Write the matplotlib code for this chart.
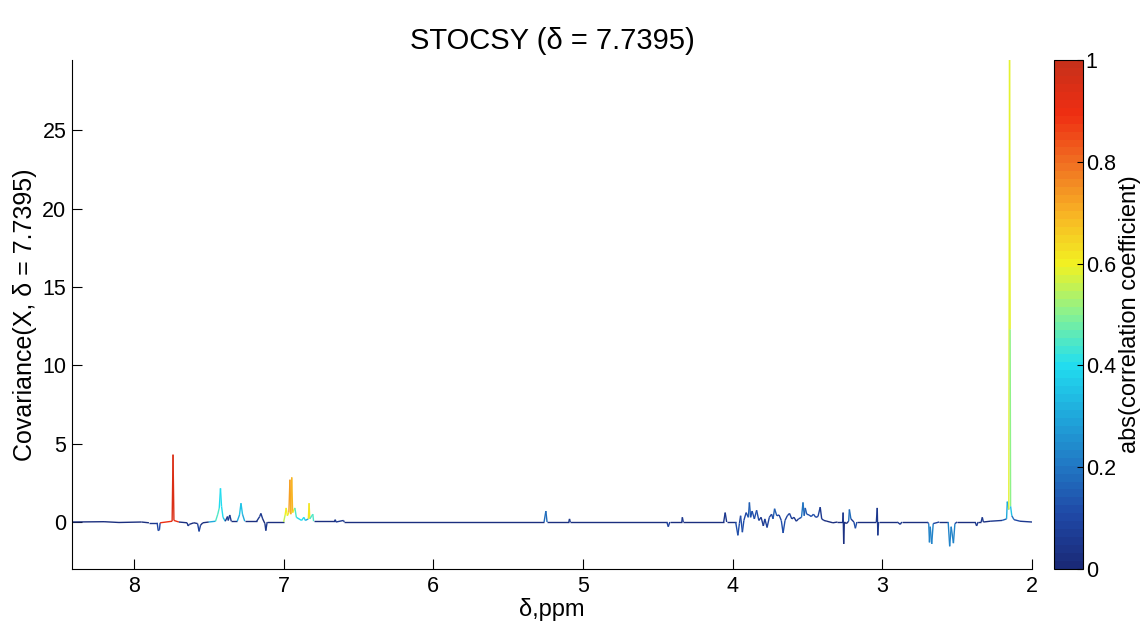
import numpy as np
import matplotlib
matplotlib.use('Agg')
import matplotlib.pyplot as plt
from matplotlib.collections import LineCollection
from matplotlib.colors import LinearSegmentedColormap, Normalize
from matplotlib.cm import ScalarMappable

plt.rcParams['font.family'] = ['Liberation Sans', 'DejaVu Sans']

# spectrum: chemical shift, covariance, abs(correlation)
ppm = [8.414, 8.20, 8.10, 7.95, 7.90, 7.845, 7.838, 7.830, 7.825,
       7.745, 7.739, 7.733, 7.70, 7.645, 7.638, 7.63, 7.60, 7.575, 7.565, 7.555, 7.54,
       7.50, 7.455, 7.44, 7.43, 7.422, 7.415, 7.405, 7.39, 7.375, 7.37, 7.36, 7.35,
       7.31, 7.295, 7.285, 7.275, 7.26, 7.18, 7.16, 7.152, 7.14, 7.125, 7.119, 7.11,
       7.00, 6.99, 6.983, 6.975, 6.965, 6.958, 6.952, 6.946, 6.940, 6.925, 6.915,
       6.88, 6.865, 6.855, 6.835, 6.83, 6.825, 6.805, 6.80, 6.66, 6.655, 6.65, 6.60, 6.595,
       5.26, 5.248, 5.24, 5.095, 5.09, 5.085, 4.44, 4.43, 4.42, 4.34, 4.336, 4.33,
       4.06, 4.05, 4.04, 3.98, 3.965, 3.955, 3.947, 3.935, 3.925, 3.91, 3.895, 3.888,
       3.88, 3.87, 3.855, 3.84, 3.825, 3.81, 3.795, 3.785, 3.77, 3.755, 3.74, 3.73,
       3.72, 3.705, 3.69, 3.675, 3.663, 3.65, 3.635, 3.62, 3.605, 3.59, 3.575, 3.56,
       3.54, 3.53, 3.522, 3.515, 3.505, 3.49, 3.475, 3.46, 3.445, 3.43, 3.415, 3.405,
       3.39, 3.37, 3.33, 3.30, 3.265, 3.262, 3.258, 3.254, 3.24, 3.225, 3.22, 3.21,
       3.19, 3.18, 3.17, 3.04, 3.034, 3.030, 3.025, 2.90, 2.88, 2.87, 2.70, 2.69,
       2.685, 2.68, 2.67, 2.66, 2.62, 2.56, 2.55, 2.54, 2.525, 2.515, 2.50, 2.38,
       2.37, 2.36, 2.34, 2.332, 2.325, 2.28, 2.20, 2.17, 2.165, 2.155, 2.150, 2.146,
       2.143, 2.135, 2.12, 2.08, 2.0]
cov = [0.0, 0.02, -0.03, 0.0, -0.05, -0.05, -0.55, -0.5, -0.05,
       0.05, 4.3, 0.1, 0.0, -0.05, -0.25, -0.15, -0.05, -0.1, -0.6, -0.2, -0.05,
       0.0, 0.05, 0.5, 0.9, 2.15, 1.0, 0.3, 0.05, 0.35, 0.1, 0.45, 0.05,
       0.05, 0.45, 1.2, 0.5, 0.05, 0.05, 0.35, 0.55, 0.2, -0.1, -0.55, 0.0,
       0.0, 0.45, 0.9, 0.4, 0.6, 2.7, 0.5, 2.85, 0.6, 0.9, 0.3,
       0.1, 0.3, 0.1, 0.2, 1.2, 0.2, 0.5, 0.05, 0.05, 0.15, 0.0, 0.1, 0.0,
       0.0, 0.7, 0.0, 0.0, 0.2, 0.0, 0.0, -0.3, 0.0, 0.0, 0.3, 0.0,
       0.0, 0.6, 0.0, 0.0, -0.85, -0.1, 0.4, -0.65, 0.1, 0.6, 0.3, 1.25,
       0.3, 0.7, 0.2, 0.75, 0.1, 0.3, -0.25, 0.2, -0.35, 0.3, 0.5, 0.2,
       0.85, 0.4, 0.45, 0.1, -0.7, 0.1, 0.4, 0.55, 0.2, 0.3, 0.05, 0.2,
       0.3, 1.25, 0.4, 0.9, 0.5, 0.45, 0.35, 0.5, 0.3, 0.35, 0.95, 0.2,
       0.1, 0.05, -0.05, 0.0, 0.0, 0.6, -1.4, 0.0, -0.1, 0.05, 0.8, 0.2,
       0.0, -0.4, 0.0, 0.0, 0.9, -0.85, 0.0, 0.0, -0.15, 0.0, 0.0, -0.1,
       -1.3, -0.3, -1.4, -0.1, 0.0, 0.0, -1.55, -0.3, -1.35, -0.1, 0.0, 0.0,
       -0.25, 0.0, 0.0, 0.3, 0.0, 0.05, 0.1, 0.2, 1.3, 0.8, 29.5, 12.3,
       1.0, 0.4, 0.15, 0.05, 0.0]
corr = [0.03, 0.03, 0.03, 0.03, 0.03, 0.05, 0.1, 0.1, 0.03,
        0.9, 0.95, 0.9, 0.03, 0.03, 0.06, 0.03, 0.03, 0.03, 0.08, 0.03, 0.03,
        0.03, 0.3, 0.45, 0.4, 0.35, 0.4, 0.35, 0.03, 0.06, 0.03, 0.06, 0.03,
        0.03, 0.3, 0.35, 0.3, 0.03, 0.03, 0.05, 0.05, 0.03, 0.03, 0.05, 0.03,
        0.03, 0.55, 0.6, 0.55, 0.6, 0.72, 0.6, 0.7, 0.6, 0.45, 0.4,
        0.3, 0.4, 0.3, 0.3, 0.62, 0.3, 0.45, 0.03, 0.03, 0.05, 0.03, 0.05, 0.03,
        0.03, 0.18, 0.03, 0.03, 0.05, 0.03, 0.03, 0.08, 0.03, 0.03, 0.05, 0.03,
        0.03, 0.05, 0.03, 0.03, 0.12, 0.05, 0.08, 0.12, 0.05, 0.1, 0.08, 0.15,
        0.08, 0.12, 0.05, 0.12, 0.05, 0.06, 0.06, 0.06, 0.08, 0.05, 0.08, 0.05,
        0.15, 0.08, 0.08, 0.05, 0.12, 0.05, 0.08, 0.08, 0.05, 0.05, 0.03, 0.05,
        0.08, 0.2, 0.12, 0.15, 0.12, 0.12, 0.08, 0.12, 0.05, 0.08, 0.06, 0.05,
        0.03, 0.03, 0.03, 0.03, 0.03, 0.06, 0.03, 0.03, 0.03, 0.03, 0.18, 0.05,
        0.03, 0.12, 0.03, 0.03, 0.05, 0.06, 0.03, 0.03, 0.05, 0.03, 0.03, 0.08,
        0.22, 0.18, 0.22, 0.08, 0.03, 0.03, 0.22, 0.18, 0.22, 0.08, 0.03, 0.03,
        0.05, 0.03, 0.03, 0.06, 0.03, 0.03, 0.06, 0.15, 0.3, 0.3, 0.58, 0.5,
        0.35, 0.2, 0.1, 0.05, 0.03]

shift = 7.7395
cbar_ticks = [0, 0.2, 0.4, 0.6, 0.8, 1]

# jet-ish map as it looks in the picture
cmap = LinearSegmentedColormap.from_list('stocsy', [
    '#1a2a78', '#1f48a6', '#2178c4', '#1fa9dc', '#22def0', '#86f293',
    '#f2f222', '#f8b424', '#f07022', '#ef2e12', '#c8301a'], N=64)
norm = Normalize(0, 1)

x = np.array(ppm)
y = np.array(cov)
c = np.array(corr)
pts = np.column_stack([x, y]).reshape(-1, 1, 2)
segs = np.concatenate([pts[:-1], pts[1:]], axis=1)
seg_c = np.maximum(c[:-1], c[1:])

fig = plt.figure(figsize=(11.47, 6.24), dpi=100)
ax = fig.add_axes([72/1147, 55/624, 960/1147, 509/624])
lc = LineCollection(segs, cmap=cmap, norm=norm, linewidths=1.0)
lc.set_array(seg_c)
ax.add_collection(lc)

ax.set_xlim(8.414, 2.0)
ax.set_ylim(-3, 29.5)
ax.set_xticks([8, 7, 6, 5, 4, 3, 2])
ax.set_yticks([0, 5, 10, 15, 20, 25])
ax.spines['top'].set_visible(False)
ax.spines['right'].set_visible(False)
ax.tick_params(direction='in', length=7, labelsize=15.5)
ax.tick_params(axis='y', pad=4)
ax.tick_params(axis='x', pad=5)
ax.set_title('STOCSY (\u03b4 = %.4f)' % shift, fontsize=21, pad=8)
ax.set_xlabel('\u03b4,ppm', fontsize=17, labelpad=1)
ax.set_ylabel('Covariance(X, \u03b4 = %.4f)' % shift, fontsize=18, labelpad=4)

cax = fig.add_axes([1054/1147, 55/624, 29/1147, 509/624])
cb = fig.colorbar(ScalarMappable(norm=norm, cmap=cmap), cax=cax)
cb.set_ticks(cbar_ticks)
cb.set_ticklabels(['0', '0.2', '0.4', '0.6', '0.8', '1'])
cb.ax.tick_params(direction='in', length=4, labelsize=15.5, pad=2)
cb.set_label('abs(correlation coefficient)', fontsize=17, labelpad=2)

fig.savefig('out.png', dpi=100)
